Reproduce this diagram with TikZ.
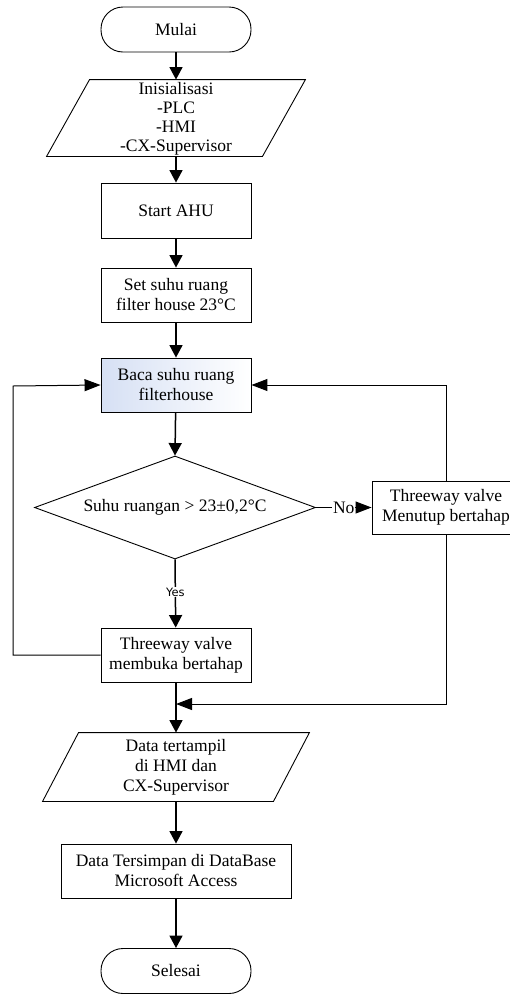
\documentclass[tikz,border=0pt]{standalone}
\usepackage{fontspec}
\setmainfont{Liberation Serif}
\newfontfamily\yesfont{DejaVu Sans}
\usetikzlibrary{shapes.geometric,arrows.meta,calc}
\definecolor{bacablue}{RGB}{214,224,244}
\tikzset{
  base/.style={font=\fontsize{17.5}{20}\selectfont, align=center, inner sep=0pt, line width=0.9pt},
  term/.style={base, draw, rounded corners=22pt, minimum width=150pt, minimum height=45pt},
  proc/.style={base, draw, minimum width=150pt, minimum height=54pt},
  iobox/.style={base, minimum height=68pt},
  decis/.style={base, draw, shape=diamond, aspect=2.73, minimum width=281pt, minimum height=103pt},
  flow/.style={line width=1.5pt, -{Triangle[length=12.5pt,width=13pt]}},
  back/.style={line width=1pt, -{Triangle[length=16pt,width=12pt]}},
  lbl/.style={fill=white, inner sep=1pt},
}
\begin{document}
\begin{tikzpicture}[x=1pt,y=-1pt]
\useasboundingbox (0,0) rectangle (510,994);
\fill[white] (0,0) rectangle (510,994);

\node[term] (mulai) at (176,29.5) {Mulai};

\node[iobox, minimum width=215pt, minimum height=76pt, font=\fontsize{17.5}{19}\selectfont] (init) at (176,119) {Inisialisasi\\-PLC\\-HMI\\-CX-Supervisor};
\draw[line width=0.9pt] ([xshift=21.5pt,yshift=1pt]init.north west) -- ([xshift=21.5pt,yshift=1pt]init.north east)
  -- ([xshift=-21.5pt,yshift=1pt]init.south east) -- ([xshift=-21.5pt,yshift=1pt]init.south west) -- cycle;

\node[proc, minimum height=55pt] (start) at (176,210.5) {Start AHU};
\node[proc] (set) at (176,295) {Set suhu ruang\\filter house 23°C};
\node[proc, left color=bacablue, right color=white] (baca) at (176,385) {Baca suhu ruang\\filterhouse};
\node[decis] (dec) at (175,507.5) {Suhu ruangan > 23±0,2°C};
\node[proc, minimum width=148pt, minimum height=53pt] (tvr) at (446,507.5) {Threeway valve\\Menutup bertahap};
\node[proc] (tvl) at (176,655) {Threeway valve\\membuka bertahap};

\node[iobox, minimum width=230pt] (data) at (176,767) {Data tertampil\\di HMI dan\\CX-Supervisor};
\draw[line width=0.9pt] ([xshift=18pt]data.north west) -- ([xshift=18pt]data.north east)
  -- ([xshift=-18pt]data.south east) -- ([xshift=-18pt]data.south west) -- cycle;

\node[proc, minimum width=230pt] (simpan) at (176,871) {Data Tersimpan di DataBase\\Microsoft Access};
\node[term] (selesai) at (176,971) {Selesai};

\coordinate (lft) at (13,386);
\coordinate (mrg) at (176,704);

\draw[flow] (mulai) -- ([yshift=1pt]init.north);
\draw[flow] ([yshift=1pt]init.south) -- (start);
\draw[flow] (start) -- (set);
\draw[flow] (set) -- (baca);
\draw[flow] (baca) -- (dec.north);
\draw[flow] (dec.south) -- node[lbl, font=\yesfont\fontsize{11.5}{13}\selectfont, pos=0.48] {Yes} (tvl);
\draw[back] (dec.east) -- node[lbl, font=\fontsize{17.5}{20}\selectfont, pos=0.5] {No} (tvr.west);
\draw[back] (tvl.west) -| (lft) -- (baca.west);
\draw[back] (tvr.north) |- (baca.east);
\draw[back] (tvr.south) |- (mrg);
\draw[flow] (tvl) -- (data);
\draw[flow] (data) -- (simpan);
\draw[flow] (simpan) -- (selesai);
\end{tikzpicture}
\end{document}
